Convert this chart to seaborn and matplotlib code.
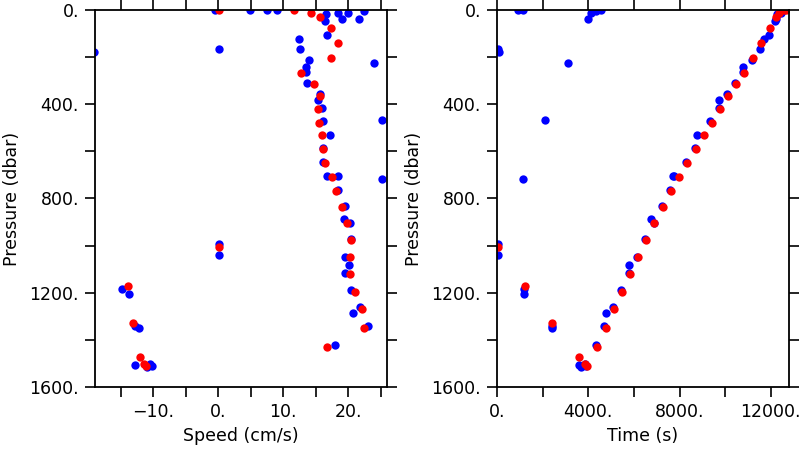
import matplotlib
matplotlib.use("Agg")
import matplotlib.pyplot as plt
import matplotlib.ticker as mticker
import seaborn as sns

# blue series: pressure (dbar), speed (cm/s), time (s)
blue_pres = [0, 0, 0, 4, 0, 11, 11, 17, 38, 38, 48, 105, 125, 166, 166, 180,
             211, 224, 241, 262, 309, 357, 380, 415, 465, 473, 532, 585, 644,
             704, 704, 717, 763, 830, 888, 902, 973, 995, 1038, 1048, 1082,
             1117, 1182, 1205, 1189, 1262, 1284, 1341, 1341, 1351, 1423, 1507,
             1514, 1501, 1510]
blue_speed = [-0.5, 4.9, 7.5, 22.5, 9.0, 18.5, 20.0, 16.6, 19.0, 21.7, 16.4,
              16.7, 12.5, 12.6, 0.05, -19.1, 14.0, 24.0, 13.5, 13.5, 13.7,
              15.7, 15.4, 16.0, 25.2, 16.1, 17.2, 16.2, 16.1, 16.8, 18.4, 25.2,
              18.5, 19.6, 19.3, 20.3, 20.4, 0.05, 0.05, 19.6, 20.2, 19.6,
              -14.8, -13.8, 20.5, 21.8, 20.7, 23.0, -12.8, -12.2, 18.0, -12.9,
              -11.0, -10.6, -10.2]
blue_time = [903, 1135, 4542, 4323, 12550, 4105, 12450, 12286, 3974, 12230,
             12169, 11905, 11718, 11529, 57, 100, 11166, 3115, 10771, 10786,
             10451, 10088, 9753, 9724, 2126, 9345, 8763, 8661, 8297, 7758, 7720,
             1121, 7569, 7220, 6769, 6880, 6493, 57, 57, 6144, 5795, 5795,
             1194, 1194, 5430, 5066, 4775, 4703, 2402, 2402, 4353, 3595, 3668,
             3850, 3920]

# red series
red_pres = [0, 0, 14, 31, 78, 139, 205, 266, 313, 367, 422, 479, 532, 592, 648,
            708, 770, 835, 905, 976, 1004, 1049, 1121, 1171, 1197, 1270, 1330,
            1351, 1432, 1474, 1504, 1511]
red_speed = [0.15, 11.6, 14.3, 15.6, 17.3, 18.4, 17.3, 12.8, 14.7, 15.7, 15.3,
             15.5, 16.0, 16.1, 16.4, 17.5, 18.1, 19.1, 19.9, 20.4, 0.05, 20.3,
             20.3, -13.9, 21.1, 22.1, -13.1, 22.4, 16.8, -12.1, -11.5, -11.2]
red_time = [12600, 12650, 12344, 12213, 11950, 11587, 11210, 10844, 10495,
            10131, 9768, 9418, 9054, 8705, 8326, 7976, 7627, 7264, 6900, 6537,
            57, 6188, 5838, 1208, 5473, 5109, 2402, 4760, 4397, 3595, 3857, 3930]

sns.set_style("white")
plt.rcParams["font.family"] = ["DejaVu Sans"]
plt.rcParams["font.size"] = 12.5
plt.rcParams["text.color"] = "black"
plt.rcParams["axes.labelcolor"] = "black"
plt.rcParams["xtick.color"] = "black"
plt.rcParams["ytick.color"] = "black"

fig = plt.figure(figsize=(8, 4.5), dpi=100)
ax1 = fig.add_axes([0.11875, 0.14, 0.365, 0.8378])
ax2 = fig.add_axes([0.62125, 0.14, 0.365, 0.8378])


def dot_fmt(v, pos):
    return f"{int(round(v))}.".replace("-", "\u2212")


def style(ax, xlim, major, minor, xlabel):
    ax.set_xlim(*xlim)
    ax.set_ylim(1600, 0)
    ax.xaxis.set_major_locator(mticker.MultipleLocator(major))
    ax.xaxis.set_minor_locator(mticker.MultipleLocator(minor))
    ax.yaxis.set_major_locator(mticker.MultipleLocator(400))
    ax.yaxis.set_minor_locator(mticker.MultipleLocator(200))
    ax.xaxis.set_major_formatter(mticker.FuncFormatter(dot_fmt))
    ax.yaxis.set_major_formatter(mticker.FuncFormatter(dot_fmt))
    for s in ax.spines.values():
        s.set_visible(True)
        s.set_color("black")
        s.set_linewidth(1.3)
    ax.tick_params(which="both", direction="out", length=7.5, width=1.2,
                   top=True, right=True, bottom=True, left=True,
                   labeltop=False, labelright=False, color="black",
                   labelcolor="black", pad=4)
    ax.set_xlabel(xlabel, labelpad=4, color="black")
    ax.set_ylabel("Pressure (dbar)", labelpad=6, color="black")


sns.scatterplot(x=blue_speed, y=blue_pres, color="#0000ff", s=36, linewidth=0, ax=ax1)
sns.scatterplot(x=red_speed, y=red_pres, color="#ff0000", s=36, linewidth=0, ax=ax1)
style(ax1, (-19, 26), 10, 5, "Speed (cm/s)")

sns.scatterplot(x=blue_time, y=blue_pres, color="#0000ff", s=36, linewidth=0, ax=ax2)
sns.scatterplot(x=red_time, y=red_pres, color="#ff0000", s=36, linewidth=0, ax=ax2)
style(ax2, (0, 12800), 4000, 2000, "Time (s)")

fig.savefig("out.png", dpi=100)
